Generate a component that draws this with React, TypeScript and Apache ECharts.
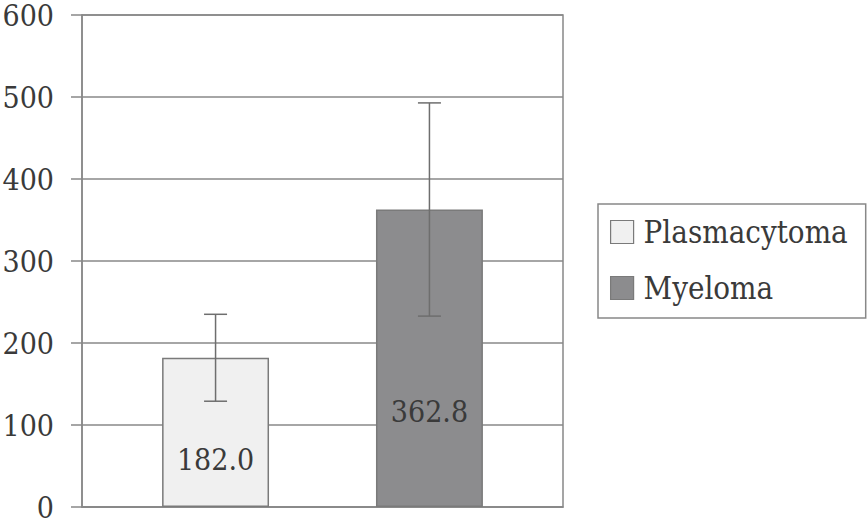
import React, { useEffect, useRef } from "react";
import * as echarts from "echarts";

const categories = [""];
const seriesNames = ["Plasmacytoma", "Myeloma"];
const means = [182.0, 362.8];
const errors = [53, 130];
const yMin = 0;
const yMax = 600;
const yInterval = 100;

const fills = ["#f0f0f0", "#8c8c8e"];
const BAR_CAT_GAP = "33.3%";
const BAR_GAP = "100%";
const FONT = "'DejaVu Serif Condensed', 'DejaVu Serif'";
const FS = 30;

export default function App() {
  const ref = useRef<HTMLDivElement>(null);
  useEffect(() => {
    if (!ref.current) return;
    const chart = echarts.init(ref.current, undefined, { renderer: "svg" });
    const barSeries = seriesNames.map((name, i) => ({
      name,
      type: "bar",
      data: [means[i]],
      barCategoryGap: BAR_CAT_GAP,
      barGap: BAR_GAP,
      itemStyle: { color: fills[i], borderColor: "#7a7a7a", borderWidth: 1.5 },
      label: {
        show: true,
        position: ["50%", "68%"],
        align: "center",
        verticalAlign: "middle",
        formatter: (p: any) => Number(p.value).toFixed(1),
        fontSize: FS,
        fontFamily: FONT,
        color: "#3a3a3a",
      },
      z: 2,
    }));
    const errData = seriesNames.map((_, i) => [0, i, means[i] - errors[i], means[i] + errors[i]]);
    const option: any = {
      animation: false,
      backgroundColor: "#ffffff",
      grid: {
        left: 82,
        right: 304,
        top: 15,
        bottom: 13,
        show: true,
        borderColor: "#888888",
        borderWidth: 1.5,
        backgroundColor: "transparent",
        containLabel: false,
        outerBoundsMode: "none",
      },
      legend: {
        orient: "vertical",
        left: 598,
        top: 204,
        padding: [12, 18, 14, 12],
        itemWidth: 23,
        itemHeight: 23,
        itemGap: 24,
        borderColor: "#888888",
        borderWidth: 1.5,
        backgroundColor: "#ffffff",
        data: seriesNames.map((n) => ({ name: n, icon: "rect" })),
        textStyle: { fontSize: 31, lineHeight: 32, fontFamily: FONT, color: "#3a3a3a", padding: [0, 0, 0, 5] },
        itemStyle: { borderColor: "#7a7a7a", borderWidth: 1.2 },
      },
      xAxis: {
        type: "category",
        data: categories,
        axisLine: { show: true, lineStyle: { color: "#888888", width: 1.5 } },
        axisTick: { show: false },
        axisLabel: { show: false },
        splitLine: { show: false },
      },
      yAxis: {
        type: "value",
        min: yMin,
        max: yMax,
        interval: yInterval,
        axisLine: { show: true, lineStyle: { color: "#888888", width: 1.5 } },
        axisTick: { show: true, inside: false, length: 11, lineStyle: { color: "#888888", width: 1.5 } },
        axisLabel: { fontSize: FS, lineHeight: 24, fontFamily: FONT, color: "#3a3a3a", margin: 28 },
        splitLine: { show: true, lineStyle: { color: "#888888", width: 1.5 } },
      },
      series: [
        ...barSeries,
        {
          name: "err",
          type: "custom",
          data: errData,
          z: 5,
          silent: true,
          renderItem: (params: any, api: any) => {
            const cat = api.value(0);
            const idx = api.value(1);
            const lo = api.value(2);
            const hi = api.value(3);
            const layout = api.barLayout({ count: seriesNames.length, barCategoryGap: BAR_CAT_GAP, barGap: BAR_GAP });
            const pLo = api.coord([cat, lo]);
            const pHi = api.coord([cat, hi]);
            const x = pLo[0] + layout[idx].offsetCenter;
            const hw = 11.5;
            const style = { stroke: "#6e6e6e", lineWidth: 1.5, fill: null };
            return {
              type: "group",
              children: [
                { type: "line", shape: { x1: x, y1: pLo[1], x2: x, y2: pHi[1] }, style },
                { type: "line", shape: { x1: x - hw, y1: pLo[1], x2: x + hw, y2: pLo[1] }, style },
                { type: "line", shape: { x1: x - hw, y1: pHi[1], x2: x + hw, y2: pHi[1] }, style },
              ],
            };
          },
        },
      ],
    };
    chart.setOption(option);
    return () => chart.dispose();
  }, []);
  return (
    <div
      ref={ref}
      style={{ position: "fixed", left: 0, top: 0, width: 867, height: 520, background: "#fff" }}
    />
  );
}
